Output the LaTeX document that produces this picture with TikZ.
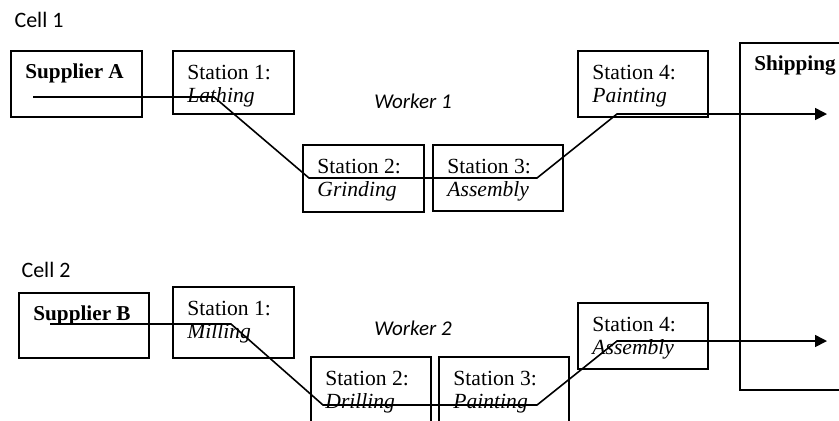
\documentclass[tikz,border=0pt]{standalone}
\usepackage{fontspec}
\setmainfont{Liberation Serif}
\newfontfamily\cellfont{Carlito}
\usetikzlibrary{arrows.meta, positioning}
\tikzset{
  box/.style = {rectangle, draw, line width=0.8pt, anchor=north west, inner sep=0pt},
  tag/.style = {anchor=north west, inner sep=0pt, xshift=7.5pt, yshift=-7.3pt,
    align=left, font=\fontsize{10.8}{11.7}\selectfont},
  boldtag/.style = {anchor=north west, inner sep=0pt, xshift=7.5pt, yshift=-6.5pt,
    font=\fontsize{10.6}{12}\selectfont\bfseries},
  cell/.style = {font=\cellfont\fontsize{11}{13}\selectfont},
  worker/.style = {font=\cellfont\itshape\fontsize{10.5}{12}\selectfont},
  flow/.style = {draw, line width=0.8pt},
  flowend/.style = {flow, -{Triangle[length=6pt, width=6pt]}}
}
\begin{document}
\begin{tikzpicture}[x=0.5pt, y=-0.5pt]
\useasboundingbox (0,0) rectangle (839,420);
\clip (0,0) rectangle (839,420);
% cell 1
\node [cell] (cellA) at (39,20) {Cell 1};
\node [box, minimum width=65.5pt, minimum height=33pt, label={[boldtag]north west:Supplier A}] (supA) at (10,50) {};
\node [box, minimum width=60.5pt, minimum height=31.5pt, label={[tag]north west:Station 1:\\\textit{Lathing}}] (lathe) at (172,50) {};
\node [box, minimum width=60.5pt, minimum height=33.5pt, label={[tag]north west:Station 2:\\\textit{Grinding}}] (grind) at (302,144) {};
\node [box, minimum width=65pt, minimum height=33pt, label={[tag]north west:Station 3:\\\textit{Assembly}}] (assemA) at (432,144) {};
\node [box, minimum width=65pt, minimum height=33pt, label={[tag]north west:Station 4:\\\textit{Painting}}] (paintA) at (577,50) {};
\node [worker] (workA) at (413,101) {Worker 1};
% shipping
\node [box, minimum width=65pt, minimum height=173.5pt, label={[boldtag]north west:Shipping}] (ship) at (739,42) {};
% cell 2
\node [cell] (cellB) at (46,270) {Cell 2};
\node [box, minimum width=65pt, minimum height=32.5pt, label={[boldtag]north west:Supplier B}] (supB) at (18,292) {};
\node [box, minimum width=60.5pt, minimum height=35.5pt, label={[tag]north west:Station 1:\\\textit{Milling}}] (mill) at (172,286) {};
\node [box, minimum width=60pt, minimum height=45pt, label={[tag]north west:Station 2:\\\textit{Drilling}}] (drill) at (310,356) {};
\node [box, minimum width=65pt, minimum height=45pt, label={[tag]north west:Station 3:\\\textit{Painting}}] (paintB) at (438,356) {};
\node [box, minimum width=65pt, minimum height=33pt, label={[tag]north west:Station 4:\\\textit{Assembly}}] (assemB) at (577,302) {};
\node [worker] (workB) at (413,328) {Worker 2};
% flow of cell 1
\coordinate (a0) at (33,97);
\coordinate (a1) at (214,97);
\coordinate (a2) at (309,178);
\coordinate (a3) at (537,178);
\coordinate (a4) at (617,114);
\coordinate (a5) at (827,114);
\path [flowend] (a0) -- (a1) -- (a2) -- (a3) -- (a4) -- (a5);
% flow of cell 2
\coordinate (b0) at (50,324);
\coordinate (b1) at (231,324);
\coordinate (b2) at (323,405);
\coordinate (b3) at (537,405);
\coordinate (b4) at (617,341);
\coordinate (b5) at (827,341);
\path [flowend] (b0) -- (b1) -- (b2) -- (b3) -- (b4) -- (b5);
\end{tikzpicture}
\end{document}
